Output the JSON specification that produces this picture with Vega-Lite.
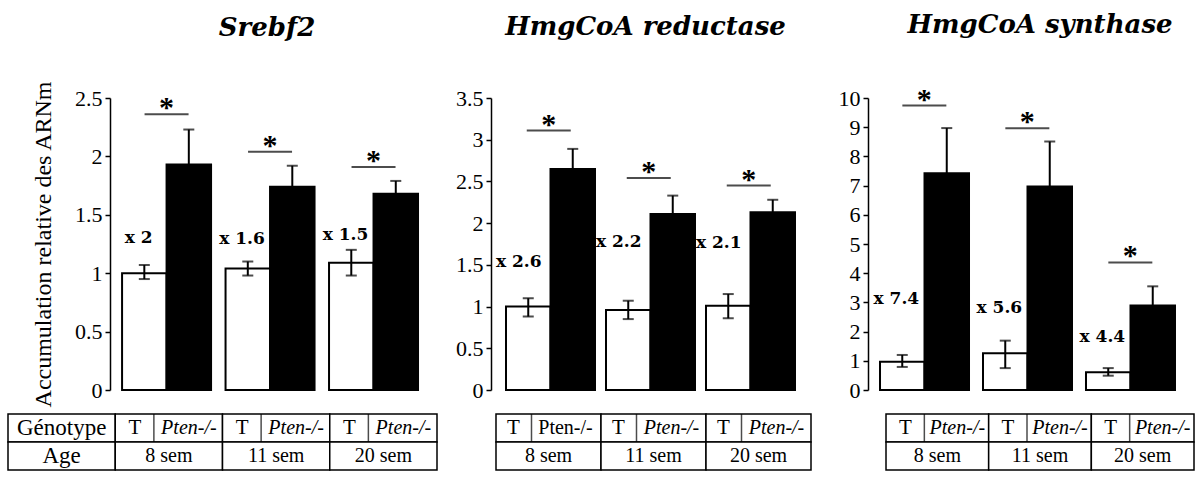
{
  "$schema": "https://vega.github.io/schema/vega-lite/v6.json",
  "background": "white",
  "padding": {"left": 7, "top": 11, "right": 2, "bottom": 4},
  "config": {
    "view": {"stroke": null},
    "axis": {"labelFont": "Liberation Serif", "labelFontSize": 22, "labelColor": "black", "labelOverlap": false, "domainColor": "black", "tickColor": "black", "domainWidth": 1.5, "tickWidth": 1.5, "tickSize": 5, "labelPadding": 3, "grid": false, "titleFont": "Liberation Serif", "titleFontSize": 24, "titleFontWeight": "normal", "titleColor": "black"},
    "title": {"font": "DejaVu Serif", "fontSize": 26, "fontStyle": "italic", "fontWeight": "bold", "color": "black", "anchor": "middle", "frame": "group", "offset": 47}
  },
  "datasets": {
    "srebf2": [
      {"age": "8 sem", "genotype": "T", "value": 1.00, "lo": 0.95, "hi": 1.07},
      {"age": "8 sem", "genotype": "Pten-/-", "value": 1.93, "lo": 1.63, "hi": 2.23},
      {"age": "11 sem", "genotype": "T", "value": 1.04, "lo": 0.98, "hi": 1.10},
      {"age": "11 sem", "genotype": "Pten-/-", "value": 1.74, "lo": 1.56, "hi": 1.92},
      {"age": "20 sem", "genotype": "T", "value": 1.09, "lo": 0.98, "hi": 1.20},
      {"age": "20 sem", "genotype": "Pten-/-", "value": 1.68, "lo": 1.57, "hi": 1.79}
    ],
    "srebf2_sig": [
      {"age": "8 sem", "bracket": 2.36, "label_level": 1.30, "fold": "x 2"},
      {"age": "11 sem", "bracket": 2.04, "label_level": 1.29, "fold": "x 1.6"},
      {"age": "20 sem", "bracket": 1.91, "label_level": 1.33, "fold": "x 1.5"}
    ],
    "reductase": [
      {"age": "8 sem", "genotype": "T", "value": 1.00, "lo": 0.88, "hi": 1.10},
      {"age": "8 sem", "genotype": "Pten-/-", "value": 2.65, "lo": 2.41, "hi": 2.89},
      {"age": "11 sem", "genotype": "T", "value": 0.96, "lo": 0.85, "hi": 1.07},
      {"age": "11 sem", "genotype": "Pten-/-", "value": 2.11, "lo": 1.89, "hi": 2.33},
      {"age": "20 sem", "genotype": "T", "value": 1.01, "lo": 0.86, "hi": 1.15},
      {"age": "20 sem", "genotype": "Pten-/-", "value": 2.13, "lo": 1.98, "hi": 2.28}
    ],
    "reductase_sig": [
      {"age": "8 sem", "bracket": 3.11, "label_level": 1.53, "fold": "x 2.6"},
      {"age": "11 sem", "bracket": 2.54, "label_level": 1.77, "fold": "x 2.2"},
      {"age": "20 sem", "bracket": 2.45, "label_level": 1.76, "fold": "x 2.1"}
    ],
    "synthase": [
      {"age": "8 sem", "genotype": "T", "value": 0.97, "lo": 0.79, "hi": 1.20},
      {"age": "8 sem", "genotype": "Pten-/-", "value": 7.42, "lo": 5.87, "hi": 8.97},
      {"age": "11 sem", "genotype": "T", "value": 1.26, "lo": 0.75, "hi": 1.69},
      {"age": "11 sem", "genotype": "Pten-/-", "value": 6.97, "lo": 5.43, "hi": 8.51},
      {"age": "20 sem", "genotype": "T", "value": 0.61, "lo": 0.49, "hi": 0.75},
      {"age": "20 sem", "genotype": "Pten-/-", "value": 2.89, "lo": 2.23, "hi": 3.55}
    ],
    "synthase_sig": [
      {"age": "8 sem", "bracket": 9.74, "label_level": 3.12, "fold": "x 7.4"},
      {"age": "11 sem", "bracket": 8.96, "label_level": 2.81, "fold": "x 5.6"},
      {"age": "20 sem", "bracket": 4.37, "label_level": 1.81, "fold": "x 4.4"}
    ],
    "grid_cells": [
      {"row": "Génotype", "col": "label"},
      {"row": "Age", "col": "label"},
      {"row": "Génotype", "col": "8 sem"},
      {"row": "Génotype", "col": "11 sem"},
      {"row": "Génotype", "col": "20 sem"},
      {"row": "Age", "col": "8 sem"},
      {"row": "Age", "col": "11 sem"},
      {"row": "Age", "col": "20 sem"}
    ],
    "geno_cells": [
      {"row": "Génotype", "col": "8 sem", "genotype": "T"},
      {"row": "Génotype", "col": "8 sem", "genotype": "Pten-/-"},
      {"row": "Génotype", "col": "11 sem", "genotype": "T"},
      {"row": "Génotype", "col": "11 sem", "genotype": "Pten-/-"},
      {"row": "Génotype", "col": "20 sem", "genotype": "T"},
      {"row": "Génotype", "col": "20 sem", "genotype": "Pten-/-"}
    ],
    "span_cells": [
      {"row": "Génotype", "col": "label", "text": "Génotype"},
      {"row": "Age", "col": "label", "text": "Age"},
      {"row": "Age", "col": "8 sem", "text": "8 sem"},
      {"row": "Age", "col": "11 sem", "text": "11 sem"},
      {"row": "Age", "col": "20 sem", "text": "20 sem"}
    ]
  },
  "columns": 3,
  "spacing": {"row": 24, "column": 54},
  "align": "each",
  "bounds": "flush",
  "concat": [
    {
      "width": 422, "height": 292,
      "title": {"text": "Srebf2", "dx": 48, "offset": 39},
      "data": {"name": "srebf2"},
      "encoding": {
        "x": {"field": "age", "type": "nominal", "scale": {"domain": ["8 sem", "11 sem", "20 sem"], "paddingInner": 0.14, "paddingOuter": 0.609, "align": 0.905}, "axis": null}
      },
      "layer": [
        {"mark": {"type": "bar", "stroke": "black", "strokeWidth": 2},
         "encoding": {
           "xOffset": {"field": "genotype", "type": "nominal", "scale": {"domain": ["T", "Pten-/-"]}},
           "y": {"field": "value", "type": "quantitative", "title": "Accumulation relative des ARNm", "scale": {"domain": [0, 2.5], "nice": false}, "axis": {"values": [0, 0.5, 1, 1.5, 2, 2.5], "format": "~r", "labelOverlap": false, "offset": -102, "titlePadding": 19}},
           "fill": {"field": "genotype", "type": "nominal", "scale": {"domain": ["T", "Pten-/-"], "range": ["white", "black"]}, "legend": null}
         }},
        {"mark": {"type": "rule", "strokeWidth": 2, "color": "black"},
         "encoding": {
           "xOffset": {"field": "genotype", "type": "nominal"},
           "y": {"field": "lo", "type": "quantitative", "title": "Accumulation relative des ARNm", "axis": {"values": [0, 0.5, 1, 1.5, 2, 2.5], "format": "~r", "labelOverlap": false, "offset": -102, "titlePadding": 19}},
           "y2": {"field": "hi"}
         }},
        {"mark": {"type": "tick", "orient": "horizontal", "size": 11, "thickness": 2, "color": "black"},
         "encoding": {"xOffset": {"field": "genotype", "type": "nominal"}, "y": {"field": "hi", "type": "quantitative", "title": "Accumulation relative des ARNm", "axis": {"values": [0, 0.5, 1, 1.5, 2, 2.5], "format": "~r", "labelOverlap": false, "offset": -102, "titlePadding": 19}}}},
        {"mark": {"type": "tick", "orient": "horizontal", "size": 11, "thickness": 2, "color": "black"},
         "encoding": {"xOffset": {"field": "genotype", "type": "nominal"}, "y": {"field": "lo", "type": "quantitative", "title": "Accumulation relative des ARNm", "axis": {"values": [0, 0.5, 1, 1.5, 2, 2.5], "format": "~r", "labelOverlap": false, "offset": -102, "titlePadding": 19}}}},
        {"data": {"name": "srebf2_sig"}, "mark": {"type": "tick", "orient": "horizontal", "size": 44, "thickness": 2, "color": "black"},
         "encoding": {"y": {"field": "bracket", "type": "quantitative", "title": "Accumulation relative des ARNm", "axis": {"values": [0, 0.5, 1, 1.5, 2, 2.5], "format": "~r", "labelOverlap": false, "offset": -102, "titlePadding": 19}}}},
        {"data": {"name": "srebf2_sig"}, "mark": {"type": "text", "text": "*", "font": "Liberation Serif", "fontSize": 30, "fontWeight": "bold", "baseline": "alphabetic", "dy": 3, "color": "black"},
         "encoding": {"y": {"field": "bracket", "type": "quantitative", "title": "Accumulation relative des ARNm", "axis": {"values": [0, 0.5, 1, 1.5, 2, 2.5], "format": "~r", "labelOverlap": false, "offset": -102, "titlePadding": 19}}}},
        {"data": {"name": "srebf2_sig"}, "mark": {"type": "text", "font": "DejaVu Serif", "fontSize": 17, "fontWeight": "bold", "baseline": "middle", "dx": -28, "color": "black"},
         "encoding": {"y": {"field": "label_level", "type": "quantitative", "title": "Accumulation relative des ARNm", "axis": {"values": [0, 0.5, 1, 1.5, 2, 2.5], "format": "~r", "labelOverlap": false, "offset": -102, "titlePadding": 19}}, "text": {"field": "fold"}}}
      ]
    },
    {
      "width": 323, "height": 292,
      "title": {"text": "HmgCoA reductase", "dx": -7},
      "data": {"name": "reductase"},
      "encoding": {
        "x": {"field": "age", "type": "nominal", "scale": {"domain": ["8 sem", "11 sem", "20 sem"], "paddingInner": 0.145, "paddingOuter": 0.1875, "align": 0.4}, "axis": null}
      },
      "layer": [
        {"mark": {"type": "bar", "stroke": "black", "strokeWidth": 2},
         "encoding": {
           "xOffset": {"field": "genotype", "type": "nominal", "scale": {"domain": ["T", "Pten-/-"]}},
           "y": {"field": "value", "type": "quantitative", "title": null, "scale": {"domain": [0, 3.5], "nice": false}, "axis": {"values": [0, 0.5, 1, 1.5, 2, 2.5, 3, 3.5], "format": "~r", "labelOverlap": false}},
           "fill": {"field": "genotype", "type": "nominal", "scale": {"domain": ["T", "Pten-/-"], "range": ["white", "black"]}, "legend": null}
         }},
        {"mark": {"type": "rule", "strokeWidth": 2, "color": "black"},
         "encoding": {"xOffset": {"field": "genotype", "type": "nominal"}, "y": {"field": "lo", "type": "quantitative", "title": null, "axis": {"values": [0, 0.5, 1, 1.5, 2, 2.5, 3, 3.5], "format": "~r", "labelOverlap": false}}, "y2": {"field": "hi"}}},
        {"mark": {"type": "tick", "orient": "horizontal", "size": 11, "thickness": 2, "color": "black"},
         "encoding": {"xOffset": {"field": "genotype", "type": "nominal"}, "y": {"field": "hi", "type": "quantitative", "title": null, "axis": {"values": [0, 0.5, 1, 1.5, 2, 2.5, 3, 3.5], "format": "~r", "labelOverlap": false}}}},
        {"mark": {"type": "tick", "orient": "horizontal", "size": 11, "thickness": 2, "color": "black"},
         "encoding": {"xOffset": {"field": "genotype", "type": "nominal"}, "y": {"field": "lo", "type": "quantitative", "title": null, "axis": {"values": [0, 0.5, 1, 1.5, 2, 2.5, 3, 3.5], "format": "~r", "labelOverlap": false}}}},
        {"data": {"name": "reductase_sig"}, "mark": {"type": "tick", "orient": "horizontal", "size": 44, "thickness": 2, "color": "black"},
         "encoding": {"y": {"field": "bracket", "type": "quantitative", "title": null, "axis": {"values": [0, 0.5, 1, 1.5, 2, 2.5, 3, 3.5], "format": "~r", "labelOverlap": false}}}},
        {"data": {"name": "reductase_sig"}, "mark": {"type": "text", "text": "*", "font": "Liberation Serif", "fontSize": 30, "fontWeight": "bold", "baseline": "alphabetic", "dy": 3, "color": "black"},
         "encoding": {"y": {"field": "bracket", "type": "quantitative", "title": null, "axis": {"values": [0, 0.5, 1, 1.5, 2, 2.5, 3, 3.5], "format": "~r", "labelOverlap": false}}}},
        {"data": {"name": "reductase_sig"}, "mark": {"type": "text", "font": "DejaVu Serif", "fontSize": 17, "fontWeight": "bold", "baseline": "middle", "dx": -30, "color": "black"},
         "encoding": {"y": {"field": "label_level", "type": "quantitative", "title": null, "axis": {"values": [0, 0.5, 1, 1.5, 2, 2.5, 3, 3.5], "format": "~r", "labelOverlap": false}}, "text": {"field": "fold"}}}
      ]
    },
    {
      "width": 320, "height": 292,
      "title": {"text": "HmgCoA synthase", "dx": 12},
      "data": {"name": "synthase"},
      "encoding": {
        "x": {"field": "age", "type": "nominal", "scale": {"domain": ["8 sem", "11 sem", "20 sem"], "paddingInner": 0.139, "paddingOuter": 0.123, "align": 0.474}, "axis": null}
      },
      "layer": [
        {"mark": {"type": "bar", "stroke": "black", "strokeWidth": 2},
         "encoding": {
           "xOffset": {"field": "genotype", "type": "nominal", "scale": {"domain": ["T", "Pten-/-"]}},
           "y": {"field": "value", "type": "quantitative", "title": null, "scale": {"domain": [0, 10], "nice": false}, "axis": {"values": [0, 1, 2, 3, 4, 5, 6, 7, 8, 9, 10], "format": "~r", "labelOverlap": false}},
           "fill": {"field": "genotype", "type": "nominal", "scale": {"domain": ["T", "Pten-/-"], "range": ["white", "black"]}, "legend": null}
         }},
        {"mark": {"type": "rule", "strokeWidth": 2, "color": "black"},
         "encoding": {"xOffset": {"field": "genotype", "type": "nominal"}, "y": {"field": "lo", "type": "quantitative", "title": null, "axis": {"values": [0, 1, 2, 3, 4, 5, 6, 7, 8, 9, 10], "format": "~r", "labelOverlap": false}}, "y2": {"field": "hi"}}},
        {"mark": {"type": "tick", "orient": "horizontal", "size": 11, "thickness": 2, "color": "black"},
         "encoding": {"xOffset": {"field": "genotype", "type": "nominal"}, "y": {"field": "hi", "type": "quantitative", "title": null, "axis": {"values": [0, 1, 2, 3, 4, 5, 6, 7, 8, 9, 10], "format": "~r", "labelOverlap": false}}}},
        {"mark": {"type": "tick", "orient": "horizontal", "size": 11, "thickness": 2, "color": "black"},
         "encoding": {"xOffset": {"field": "genotype", "type": "nominal"}, "y": {"field": "lo", "type": "quantitative", "title": null, "axis": {"values": [0, 1, 2, 3, 4, 5, 6, 7, 8, 9, 10], "format": "~r", "labelOverlap": false}}}},
        {"data": {"name": "synthase_sig"}, "mark": {"type": "tick", "orient": "horizontal", "size": 44, "thickness": 2, "color": "black"},
         "encoding": {"y": {"field": "bracket", "type": "quantitative", "title": null, "axis": {"values": [0, 1, 2, 3, 4, 5, 6, 7, 8, 9, 10], "format": "~r", "labelOverlap": false}}}},
        {"data": {"name": "synthase_sig"}, "mark": {"type": "text", "text": "*", "font": "Liberation Serif", "fontSize": 30, "fontWeight": "bold", "baseline": "alphabetic", "dy": 3, "color": "black"},
         "encoding": {"y": {"field": "bracket", "type": "quantitative", "title": null, "axis": {"values": [0, 1, 2, 3, 4, 5, 6, 7, 8, 9, 10], "format": "~r", "labelOverlap": false}}}},
        {"data": {"name": "synthase_sig"}, "mark": {"type": "text", "font": "DejaVu Serif", "fontSize": 17, "fontWeight": "bold", "baseline": "middle", "dx": -28, "color": "black"},
         "encoding": {"y": {"field": "label_level", "type": "quantitative", "title": null, "axis": {"values": [0, 1, 2, 3, 4, 5, 6, 7, 8, 9, 10], "format": "~r", "labelOverlap": false}}, "text": {"field": "fold"}}}
      ]
    },
    {
      "width": 429, "height": 56,
      "encoding": {
        "x": {"field": "col", "type": "nominal", "scale": {"domain": ["label", "8 sem", "11 sem", "20 sem"], "paddingInner": 0, "paddingOuter": 0}, "axis": null},
        "y": {"field": "row", "type": "nominal", "scale": {"domain": ["Génotype", "Age"], "paddingInner": 0, "paddingOuter": 0}, "axis": null}
      },
      "layer": [
        {"data": {"name": "grid_cells"}, "mark": {"type": "rect", "fill": "white", "stroke": "black", "strokeWidth": 1.5}},
        {"data": {"name": "geno_cells"}, "transform": [{"filter": "datum.genotype == 'T'"}], "mark": {"type": "tick", "orient": "vertical", "size": 28, "thickness": 1.5, "color": "black", "xOffset": -15}},
        {"data": {"name": "span_cells"}, "transform": [{"filter": "datum.col == 'label'"}], "mark": {"type": "text", "font": "Liberation Serif", "fontSize": 23, "baseline": "middle", "color": "black"}, "encoding": {"text": {"field": "text"}}},
        {"data": {"name": "span_cells"}, "transform": [{"filter": "datum.col != 'label'"}], "mark": {"type": "text", "font": "Liberation Serif", "fontSize": 20, "baseline": "middle", "color": "black"}, "encoding": {"text": {"field": "text"}}},
        {"data": {"name": "geno_cells"}, "transform": [{"filter": "datum.genotype == 'T'"}], "mark": {"type": "text", "font": "Liberation Serif", "fontSize": 21, "baseline": "middle", "dx": -34, "color": "black"}, "encoding": {"text": {"field": "genotype"}}},
        {"data": {"name": "geno_cells"}, "transform": [{"filter": "datum.genotype == 'Pten-/-'"}], "mark": {"type": "text", "font": "Liberation Serif", "fontSize": 20, "fontStyle": "italic", "baseline": "middle", "dx": 20, "color": "black"}, "encoding": {"text": {"field": "genotype"}}}
      ]
    },
    {
      "width": 320, "height": 56,
      "encoding": {
        "x": {"field": "col", "type": "nominal", "scale": {"domain": ["8 sem", "11 sem", "20 sem"], "paddingInner": 0, "paddingOuter": 0.0238, "align": 1}, "axis": null},
        "y": {"field": "row", "type": "nominal", "scale": {"domain": ["Génotype", "Age"], "paddingInner": 0, "paddingOuter": 0}, "axis": null}
      },
      "layer": [
        {"data": {"name": "grid_cells"}, "transform": [{"filter": "datum.col != 'label'"}], "mark": {"type": "rect", "fill": "white", "stroke": "black", "strokeWidth": 1.5}},
        {"data": {"name": "geno_cells"}, "transform": [{"filter": "datum.genotype == 'T'"}], "mark": {"type": "tick", "orient": "vertical", "size": 28, "thickness": 1.5, "color": "black", "xOffset": -17}},
        {"data": {"name": "span_cells"}, "transform": [{"filter": "datum.col != 'label'"}], "mark": {"type": "text", "font": "Liberation Serif", "fontSize": 20, "baseline": "middle", "color": "black"}, "encoding": {"text": {"field": "text"}}},
        {"data": {"name": "geno_cells"}, "transform": [{"filter": "datum.genotype == 'T'"}], "mark": {"type": "text", "font": "Liberation Serif", "fontSize": 21, "baseline": "middle", "dx": -35, "color": "black"}, "encoding": {"text": {"field": "genotype"}}},
        {"data": {"name": "geno_cells"}, "transform": [{"filter": "datum.genotype == 'Pten-/-' && datum.col == '8 sem'"}], "mark": {"type": "text", "font": "Liberation Serif", "fontSize": 20, "baseline": "middle", "dx": 17, "color": "black"}, "encoding": {"text": {"field": "genotype"}}},
        {"data": {"name": "geno_cells"}, "transform": [{"filter": "datum.genotype == 'Pten-/-' && datum.col != '8 sem'"}], "mark": {"type": "text", "font": "Liberation Serif", "fontSize": 20, "fontStyle": "italic", "baseline": "middle", "dx": 18, "color": "black"}, "encoding": {"text": {"field": "genotype"}}}
      ]
    },
    {
      "width": 326, "height": 56,
      "encoding": {
        "x": {"field": "col", "type": "nominal", "scale": {"domain": ["8 sem", "11 sem", "20 sem"], "paddingInner": 0, "paddingOuter": 0.0877, "align": 1}, "axis": null},
        "y": {"field": "row", "type": "nominal", "scale": {"domain": ["Génotype", "Age"], "paddingInner": 0, "paddingOuter": 0}, "axis": null}
      },
      "layer": [
        {"data": {"name": "grid_cells"}, "transform": [{"filter": "datum.col != 'label'"}], "mark": {"type": "rect", "fill": "white", "stroke": "black", "strokeWidth": 1.5}},
        {"data": {"name": "geno_cells"}, "transform": [{"filter": "datum.genotype == 'T'"}], "mark": {"type": "tick", "orient": "vertical", "size": 28, "thickness": 1.5, "color": "black", "xOffset": -13}},
        {"data": {"name": "span_cells"}, "transform": [{"filter": "datum.col != 'label'"}], "mark": {"type": "text", "font": "Liberation Serif", "fontSize": 20, "baseline": "middle", "color": "black"}, "encoding": {"text": {"field": "text"}}},
        {"data": {"name": "geno_cells"}, "transform": [{"filter": "datum.genotype == 'T'"}], "mark": {"type": "text", "font": "Liberation Serif", "fontSize": 21, "baseline": "middle", "dx": -32, "color": "black"}, "encoding": {"text": {"field": "genotype"}}},
        {"data": {"name": "geno_cells"}, "transform": [{"filter": "datum.genotype == 'Pten-/-'"}], "mark": {"type": "text", "font": "Liberation Serif", "fontSize": 20, "fontStyle": "italic", "baseline": "middle", "dx": 20, "color": "black"}, "encoding": {"text": {"field": "genotype"}}}
      ]
    }
  ]
}
